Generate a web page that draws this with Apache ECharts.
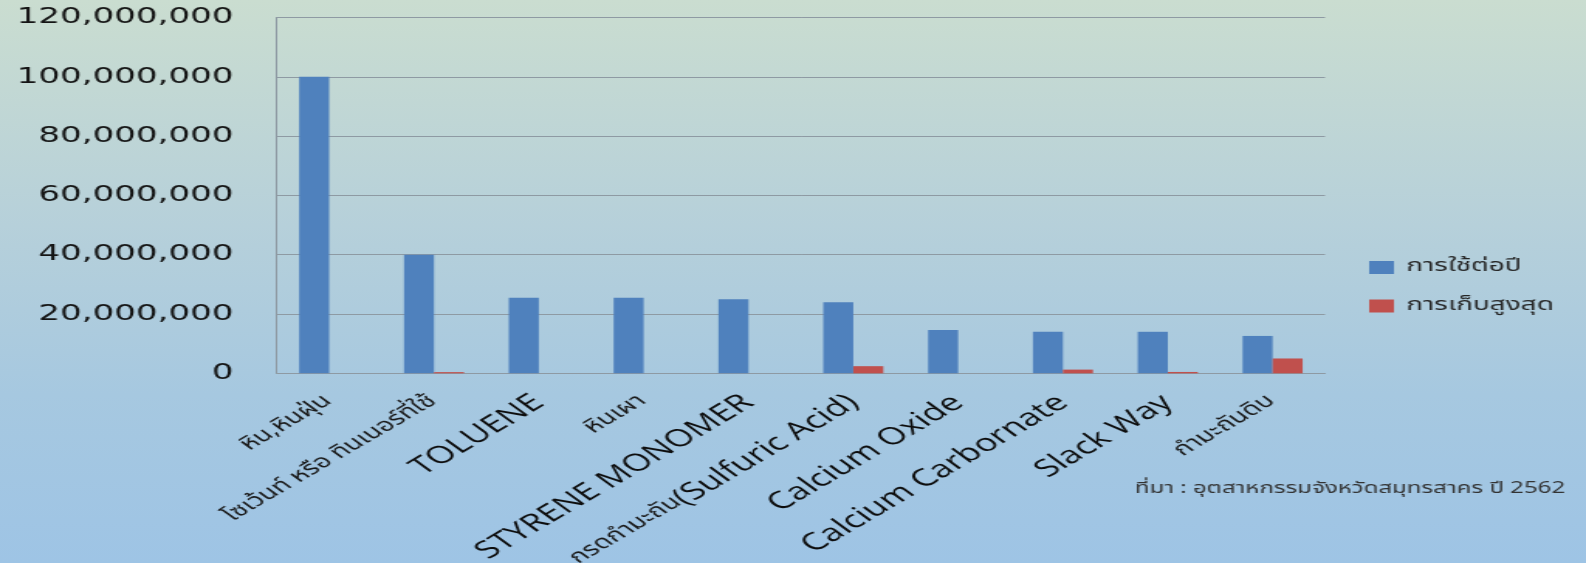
<!DOCTYPE html>
<html>
<head>
<meta charset="utf-8">
<script src="https://cdn.jsdelivr.net/npm/echarts@6/dist/echarts.min.js"></script>
<style>
  html, body { margin: 0; padding: 0; width: 1586px; height: 563px; overflow: hidden; }
  body { background: linear-gradient(to bottom, #CADDD0 0%, #B6D0DA 40%, #A6C8E0 70%, #9EC4E5 100%); }
  #wrap { position: absolute; left: 0; top: 0; width: 1024px; height: 563px;
          transform: scaleX(1.5488); transform-origin: 0 0; }
  #chart { width: 1024px; height: 563px; }
</style>
</head>
<body>
<div id="wrap"><div id="chart"></div></div>
<script>
// ---- data ----
const categories = [
  'หิน,หินฝุ่น',
  'โซเว้นท์ หรือ ทินเนอร์ที่ใช้',
  'TOLUENE',
  'หินเผา',
  'STYRENE MONOMER',
  'กรดกำมะถัน(Sulfuric Acid)',
  'Calcium Oxide',
  'Calcium Carbornate',
  'Slack Way',
  'กำมะถันดิบ'
];
const seriesNames = ['การใช้ต่อปี', 'การเก็บสูงสุด'];
const usagePerYear = [100000000, 40000000, 25500000, 25500000, 25000000, 24000000, 14600000, 14000000, 14000000, 12600000];
const maxStorage   = [0, 400000, 0, 0, 0, 2400000, 0, 1250000, 450000, 5000000];
const yTicks = [0, 20000000, 40000000, 60000000, 80000000, 100000000, 120000000];
const sourceNote = 'ที่มา : อุตสาหกรรมจังหวัดสมุทรสาคร ปี 2562';

// ---- chart ----
const thaiFont = "'Noto Sans Thai', 'Noto Sans', 'DejaVu Sans', sans-serif";
const chart = echarts.init(document.getElementById('chart'));

function richLabel(v) {
  const parts = v.match(/[\u0E00-\u0E7F,]+(?:\s+[\u0E00-\u0E7F,]+)*|[^\u0E00-\u0E7F]+/g) || [v];
  return parts.map(p => (/[\u0E00-\u0E7F]/.test(p) ? '{th|' + p + '}' : '{en|' + p + '}')).join('');
}

chart.setOption({
  backgroundColor: 'transparent',
  animation: false,
  color: ['#4F81BD', '#C0504D'],
  grid: { left: 178.7, right: 168.5, top: 17.5, bottom: 189.7, containLabel: false, outerBoundsMode: 'none' },
  legend: {
    orient: 'vertical',
    left: 884,
    top: 257.5,
    padding: 0,
    itemWidth: 16,
    itemHeight: 13,
    itemGap: 18.5,
    icon: 'rect',
    data: seriesNames,
    textStyle: { fontFamily: thaiFont, fontSize: 18, color: '#262626', lineHeight: 20, padding: [0, 0, 0, 3] }
  },
  xAxis: {
    type: 'category',
    data: categories,
    axisLine: { lineStyle: { color: '#8E9AA3', width: 1 } },
    axisTick: { show: false },
    axisLabel: {
      interval: 0,
      rotate: 42,
      margin: 26,
      formatter: richLabel,
      rich: {
        th: { fontFamily: thaiFont, fontSize: 18.5, color: '#1a1a1a' },
        en: { fontFamily: "'Open Sans', 'Noto Sans', sans-serif", fontSize: 24, color: '#0d0d0d' }
      }
    }
  },
  yAxis: {
    type: 'value',
    min: 0,
    max: 120000000,
    interval: 20000000,
    axisLine: { show: true, lineStyle: { color: '#8E9AA3', width: 1 } },
    axisTick: { show: false },
    splitLine: { lineStyle: { color: '#8E9AA3', width: 1 } },
    axisLabel: {
      margin: 28,
      fontFamily: "'DejaVu Sans', sans-serif",
      fontSize: 22,
      color: '#141414',
      formatter: v => (yTicks.includes(v) ? v.toLocaleString('en-US') : '')
    }
  },
  series: [
    { name: seriesNames[0], type: 'bar', data: usagePerYear, barGap: '0%', barCategoryGap: '42.7%' },
    { name: seriesNames[1], type: 'bar', data: maxStorage, barGap: '0%', barCategoryGap: '42.7%' }
  ],
  graphic: [{
    type: 'text',
    right: 13.5,
    top: 482,
    style: { text: sourceNote, fontFamily: thaiFont, fontSize: 15.5, fill: '#333333' }
  }]
});
</script>
</body>
</html>
